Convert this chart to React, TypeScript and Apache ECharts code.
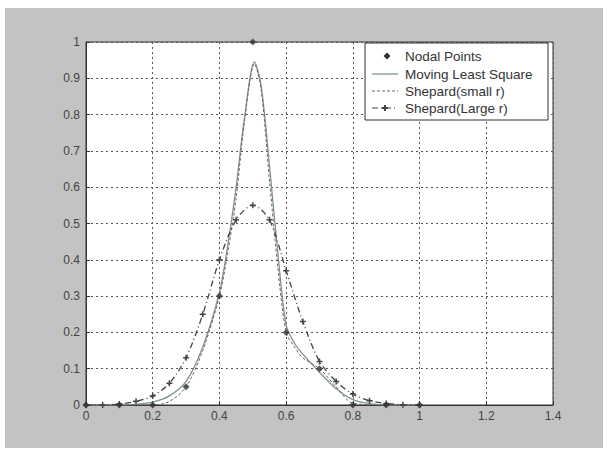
import React, { useEffect, useRef } from "react";
import * as echarts from "echarts";

const nodeX = [0, 0.1, 0.2, 0.3, 0.4, 0.5, 0.6, 0.7, 0.8, 0.9, 1.0];
const nodeY = [0, 0, 0, 0.05, 0.3, 1.0, 0.2, 0.1, 0, 0, 0];

const mlsX = [0, 0.1, 0.15, 0.2, 0.25, 0.3, 0.35, 0.4, 0.425, 0.45, 0.475, 0.505, 0.525, 0.55, 0.575, 0.6, 0.625, 0.65, 0.7, 0.75, 0.8, 0.85, 0.9, 1.0];
const mlsY = [0, 0, 0.002, 0.008, 0.025, 0.065, 0.16, 0.31, 0.44, 0.6, 0.79, 0.945, 0.88, 0.66, 0.42, 0.22, 0.17, 0.14, 0.09, 0.045, 0.015, 0.004, 0, 0];

const smallX = [0, 0.1, 0.2, 0.25, 0.3, 0.35, 0.4, 0.425, 0.45, 0.475, 0.505, 0.525, 0.55, 0.575, 0.6, 0.625, 0.65, 0.7, 0.75, 0.8, 0.9, 1.0];
const smallY = [0, 0, 0, 0.01, 0.05, 0.15, 0.3, 0.42, 0.57, 0.78, 0.94, 0.87, 0.62, 0.38, 0.2, 0.16, 0.13, 0.1, 0.05, 0.005, 0, 0];

const largeX = [0, 0.05, 0.1, 0.15, 0.2, 0.25, 0.3, 0.35, 0.4, 0.45, 0.5, 0.55, 0.6, 0.65, 0.7, 0.75, 0.8, 0.85, 0.9, 0.95, 1.0];
const largeY = [0, 0, 0.003, 0.01, 0.025, 0.06, 0.13, 0.25, 0.4, 0.51, 0.55, 0.51, 0.37, 0.23, 0.12, 0.065, 0.03, 0.012, 0.004, 0.001, 0];

const seriesNames = ["Nodal Points", "Moving Least Square", "Shepard(small r)", "Shepard(Large r)"];

const zip = (xs: number[], ys: number[]) => xs.map((x, i) => [x, ys[i]]);

const PLUS = "path://M3,0H5V3H8V5H5V8H3V5H0V3H3Z";

const MLS_COLOR = "#7d9486";
const SMALL_COLOR = "#666";
const LARGE_COLOR = "#444";
const NODE_COLOR = "#333";

export default function App() {
  const ref = useRef<HTMLDivElement>(null);
  useEffect(() => {
    document.body.style.margin = "0";
    const chart = echarts.init(ref.current!, null, { renderer: "svg" });
    const font = "Liberation Sans, Arial, sans-serif";

    // custom legend
    const lx = 365, ly = 43, lw = 183, lh = 77;
    const rowY = [56, 74, 91, 108];
    const iconL = 372, iconR = 398, textX = 405;
    const legendEls: any[] = [
      {
        type: "rect",
        shape: { x: lx, y: ly, width: lw, height: lh },
        style: { fill: "#ffffff", stroke: "#333", lineWidth: 1 },
        z: 100,
      },
      {
        type: "polygon",
        shape: { points: [[387, rowY[0] - 3.5], [390.5, rowY[0]], [387, rowY[0] + 3.5], [383.5, rowY[0]]] },
        style: { fill: NODE_COLOR },
        z: 101,
      },
      {
        type: "line",
        shape: { x1: iconL, y1: rowY[1], x2: iconR, y2: rowY[1] },
        style: { stroke: MLS_COLOR, lineWidth: 1.3 },
        z: 101,
      },
      {
        type: "line",
        shape: { x1: iconL, y1: rowY[2], x2: iconR, y2: rowY[2] },
        style: { stroke: SMALL_COLOR, lineWidth: 1, lineDash: [3, 2] },
        z: 101,
      },
      {
        type: "line",
        shape: { x1: iconL, y1: rowY[3], x2: iconR, y2: rowY[3] },
        style: { stroke: LARGE_COLOR, lineWidth: 1.2, lineDash: [6, 3, 1, 3] },
        z: 101,
      },
      {
        type: "polygon",
        shape: {
          points: [
            [384, rowY[3] - 3], [386, rowY[3] - 3], [386, rowY[3] - 1], [388, rowY[3] - 1],
            [388, rowY[3] + 1], [386, rowY[3] + 1], [386, rowY[3] + 3], [384, rowY[3] + 3],
            [384, rowY[3] + 1], [382, rowY[3] + 1], [382, rowY[3] - 1], [384, rowY[3] - 1],
          ],
        },
        style: { fill: LARGE_COLOR },
        z: 101,
      },
      ...seriesNames.map((n, i) => ({
        type: "text",
        x: textX,
        y: rowY[i],
        style: {
          text: n,
          fill: "#333",
          font: `13.5px ${font}`,
          verticalAlign: "middle",
          textAlign: "left",
        },
        z: 101,
      })),
    ];

    chart.setOption({
      animation: false,
      backgroundColor: "transparent",
      textStyle: { fontFamily: font },
      grid: {
        left: 86,
        right: 54,
        top: 42,
        bottom: 46,
        show: true,
        backgroundColor: "#ffffff",
        borderColor: "#333",
        borderWidth: 1,
      },
      graphic: legendEls,
      xAxis: {
        type: "value",
        min: 0,
        max: 1.4,
        interval: 0.2,
        axisLine: { show: true, lineStyle: { color: "#333" } },
        axisTick: { show: true, inside: true, length: 4, lineStyle: { color: "#333" } },
        axisLabel: { color: "#444", fontSize: 12, margin: 5 },
        splitLine: { show: true, lineStyle: { color: "#555", type: [2, 3], width: 1 } },
      },
      yAxis: {
        type: "value",
        min: 0,
        max: 1,
        interval: 0.1,
        axisLine: { show: true, lineStyle: { color: "#333" } },
        axisTick: { show: true, inside: true, length: 4, lineStyle: { color: "#333" } },
        axisLabel: { color: "#444", fontSize: 12, margin: 6 },
        splitLine: { show: true, lineStyle: { color: "#555", type: [2, 3], width: 1 } },
      },
      series: [
        {
          name: seriesNames[1],
          type: "line",
          data: zip(mlsX, mlsY),
          smooth: 0.3,
          showSymbol: false,
          symbol: "none",
          lineStyle: { color: MLS_COLOR, width: 1.3 },
          itemStyle: { color: MLS_COLOR },
        },
        {
          name: seriesNames[2],
          type: "line",
          data: zip(smallX, smallY),
          smooth: 0.3,
          showSymbol: false,
          symbol: "none",
          lineStyle: { color: SMALL_COLOR, width: 1, type: [3, 2] },
          itemStyle: { color: SMALL_COLOR },
        },
        {
          name: seriesNames[3],
          type: "line",
          data: zip(largeX, largeY),
          smooth: 0.3,
          symbol: PLUS,
          symbolSize: 6,
          lineStyle: { color: LARGE_COLOR, width: 1.3, type: [6, 3, 1, 3] },
          itemStyle: { color: LARGE_COLOR },
        },
        {
          name: seriesNames[0],
          type: "scatter",
          data: zip(nodeX, nodeY),
          symbol: "diamond",
          symbolSize: 7,
          itemStyle: { color: NODE_COLOR },
          z: 5,
        },
      ],
    });
    return () => chart.dispose();
  }, []);
  return (
    <div style={{ width: 607, height: 451, background: "#ffffff", position: "relative" }}>
      <div
        style={{
          position: "absolute",
          left: 5,
          top: 8,
          width: 598,
          height: 440,
          background: "#c3c3c3",
        }}
      />
      <div ref={ref} style={{ position: "absolute", left: 0, top: 0, width: 607, height: 451 }} />
    </div>
  );
}
